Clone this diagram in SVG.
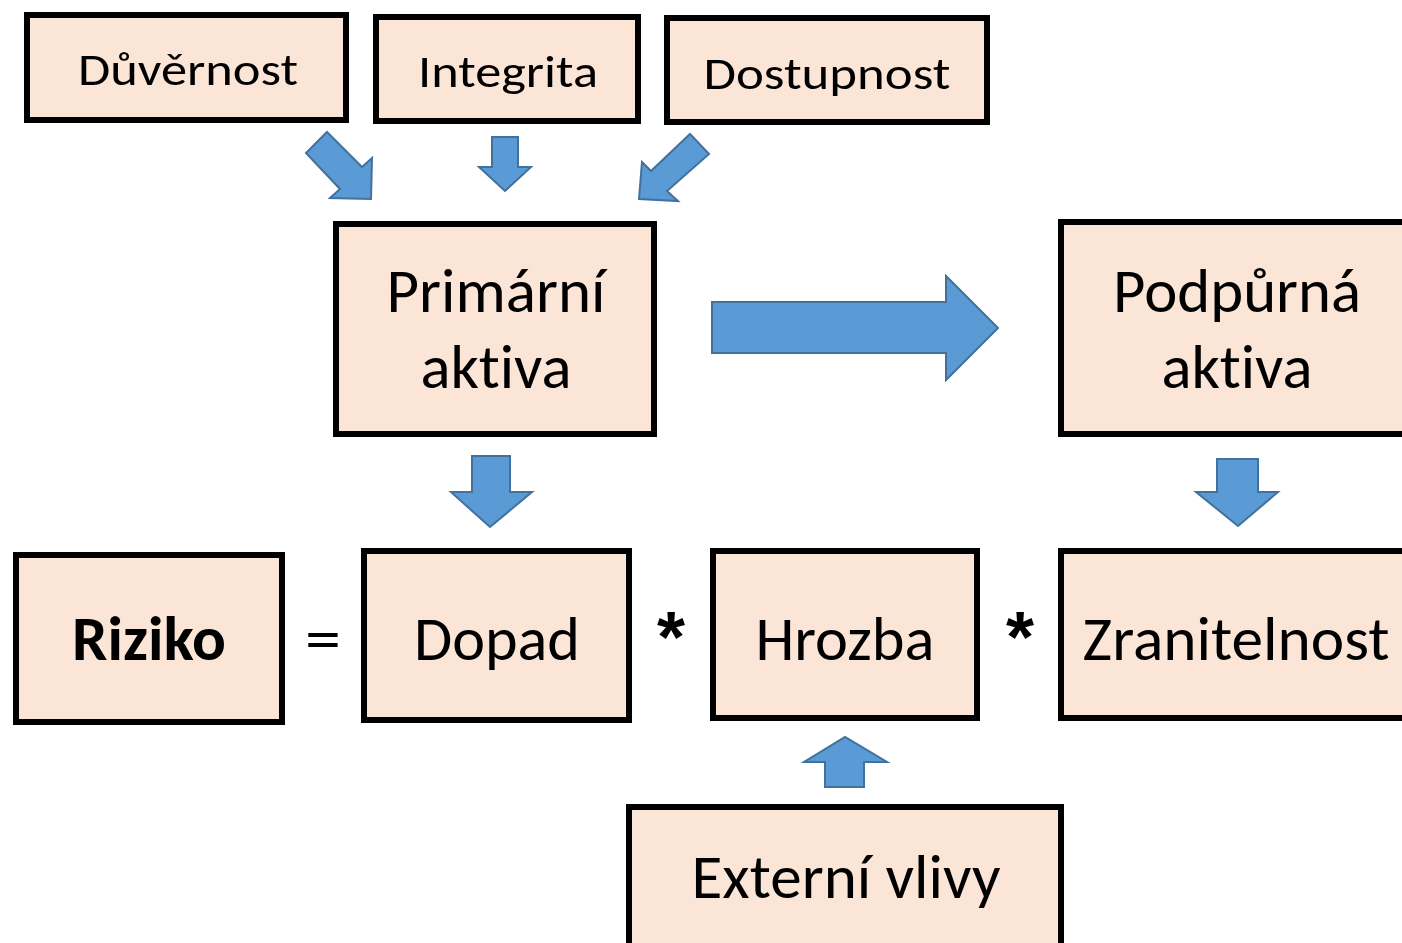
<svg xmlns="http://www.w3.org/2000/svg" width="1402" height="943" viewBox="0 0 1402 943">
<style>
.box{fill:#FBE5D6;stroke:#000;stroke-width:6}
.arr{fill:#5B9BD5;stroke:#41719C;stroke-width:2;stroke-linejoin:miter}
.t{font-family:Carlito,Lato,"Liberation Sans",sans-serif;fill:#000;text-anchor:middle;font-variant-ligatures:none;font-feature-settings:"liga" 0,"dlig" 0}
.s{font-size:46px}
.l{font-size:62px}
.b{font-weight:bold}
.ast{font-family:"Liberation Sans",sans-serif;font-size:72px;font-weight:bold;text-anchor:middle;fill:#000}
</style>
<rect width="1402" height="943" fill="#fff"/>
<g id="duvernost"><rect class="box" x="27" y="15" width="319" height="105"/><text class="t s" x="188" y="85" textLength="220" lengthAdjust="spacingAndGlyphs">Důvěrnost</text></g>
<g id="integrita"><rect class="box" x="376" y="17" width="262" height="104"/><text class="t s" x="508" y="87" textLength="180" lengthAdjust="spacingAndGlyphs">Integrita</text></g>
<g id="dostupnost"><rect class="box" x="667" y="18" width="320" height="104"/><text class="t s" x="827" y="89" textLength="247" lengthAdjust="spacingAndGlyphs">Dostupnost</text></g>
<g id="primarni"><rect class="box" x="336" y="224" width="318" height="210"/><text class="t l" x="496" y="312" textLength="219" lengthAdjust="spacingAndGlyphs">Primární</text><text class="t l" x="496" y="388" textLength="151" lengthAdjust="spacingAndGlyphs">aktiva</text></g>
<g id="podpurna"><rect class="box" x="1061" y="222" width="350" height="212"/><text class="t l" x="1237" y="312" textLength="248" lengthAdjust="spacingAndGlyphs">Podpůrná</text><text class="t l" x="1237" y="388" textLength="151" lengthAdjust="spacingAndGlyphs">aktiva</text></g>
<g id="riziko"><rect class="box" x="16" y="555" width="266" height="167"/><text class="t l b" x="149" y="660" textLength="154" lengthAdjust="spacingAndGlyphs">Riziko</text></g>
<g id="rovna"><text class="t l" x="323" y="660" textLength="36" lengthAdjust="spacingAndGlyphs">=</text></g>
<g id="dopad"><rect class="box" x="364" y="551" width="265" height="169"/><text class="t l" x="497" y="660" textLength="166" lengthAdjust="spacingAndGlyphs">Dopad</text></g>
<g id="krat1"><text class="ast" x="671" y="662">*</text></g>
<g id="hrozba"><rect class="box" x="713" y="551" width="264" height="167"/><text class="t l" x="845" y="660" textLength="179" lengthAdjust="spacingAndGlyphs">Hrozba</text></g>
<g id="krat2"><text class="ast" x="1020" y="662">*</text></g>
<g id="zranitelnost"><rect class="box" x="1061" y="551" width="350" height="167"/><text class="t l" x="1236" y="660" textLength="307" lengthAdjust="spacingAndGlyphs">Zranitelnost</text></g>
<g id="externi"><rect class="box" x="629" y="807" width="432" height="140"/><text class="t l" x="846" y="898" textLength="309" lengthAdjust="spacingAndGlyphs">Externí vlivy</text></g>
<g id="connectors">
<polygon class="arr" points="327,132 362,167 372,158 371,199 330,198 340,189 306,153"/>
<polygon class="arr" points="492,137 518,137 518,167 531,167 505,191 479,167 492,167"/>
<polygon class="arr" points="690,134 709,154 667,191 678,201 639,199 642,162 651,171"/>
<polygon class="arr" points="712,302 946,302 946,276 998,328 946,380 946,353 712,353"/>
<polygon class="arr" points="472,456 510,456 510,492 532,492 490,527 451,492 472,492"/>
<polygon class="arr" points="1217,459 1258,459 1258,492 1278,492 1238,526 1196,492 1217,492"/>
<polygon class="arr" points="825,787 864,787 864,762 887,762 845,737 804,762 825,762"/>
</g>
</svg>
